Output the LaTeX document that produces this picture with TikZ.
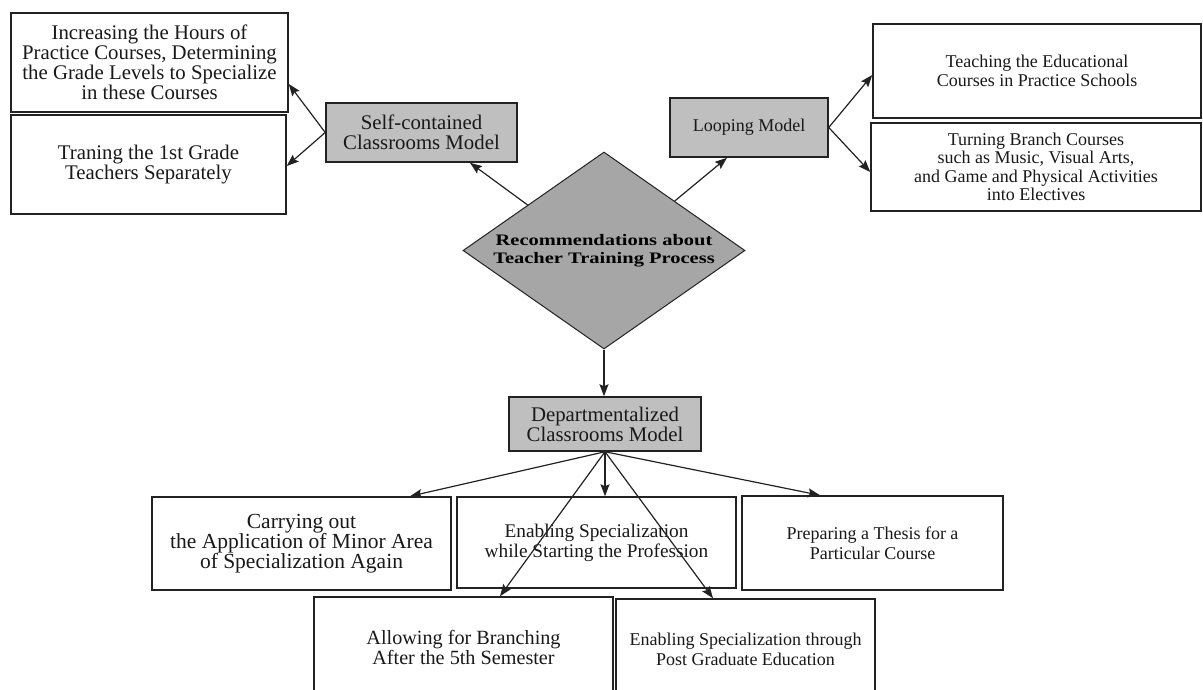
\documentclass[tikz,border=0pt]{standalone}
\usepackage{fontspec}
\setmainfont{Liberation Serif}
\newfontfamily\widebold{Liberation Serif}[FakeStretch=1.28]
\usetikzlibrary{shapes.geometric,arrows.meta,calc}
\definecolor{boxgray}{HTML}{BFBFBF}
\definecolor{diagray}{HTML}{A6A6A6}
\definecolor{edge}{HTML}{222222}
\begin{document}
\begin{tikzpicture}[x=1pt,y=-1pt,
  box/.style={draw=edge, line width=1.5pt, rectangle, inner sep=0pt, align=center, text=black!90},
  gbox/.style={box, fill=boxgray},
  fa/.style={font=\fontsize{20.8}{20}\selectfont},
  fc/.style={font=\fontsize{18}{19}\selectfont},
  dia/.style={draw=edge, line width=1pt, fill=diagray, shape=diamond, inner sep=0pt},
  diatext/.style={font=\widebold\bfseries\fontsize{16}{18.3}\selectfont, align=center, inner sep=0pt},
  arr/.style={draw=edge, line width=1.2pt, -{Stealth[length=12pt,width=9pt,inset=2pt]}}]
\useasboundingbox (0,0) rectangle (1203,690);
\clip (0,0) rectangle (1203,690);
\fill[white] (0,0) rectangle (1203,690);

% left branch
\node[box, fa, minimum width=277pt, minimum height=99pt] (tl1) at (149.5,62.5)
  {Increasing the Hours of\\Practice Courses, Determining\\the Grade Levels to Specialize\\in these Courses};
\node[box, fa, minimum width=275pt, minimum height=99pt] (tl2) at (148.5,164.5)
  {Traning the 1st Grade\\Teachers Separately};
\node[gbox, fa, minimum width=191pt, minimum height=59pt] (sc) at (421.5,132.5)
  {Self-contained\\Classrooms Model};

% right branch
\node[gbox, fc, minimum width=158pt, minimum height=59pt] (loop) at (749,127.5)
  {Looping Model};
\node[box, fc, minimum width=328pt, minimum height=94pt] (tr1) at (1037,71)
  {Teaching the Educational\\Courses in Practice Schools};
\node[box, font=\fontsize{18}{18.5}\selectfont, minimum width=330pt, minimum height=88pt] (tr2) at (1036,167)
  {Turning Branch Courses\\such as Music, Visual Arts,\\and Game and Physical Activities\\into Electives};

% centre
\node[dia, minimum width=282pt, minimum height=197pt] (rec) at (604,250.5) {};
\node[diatext] (rectext) at (rec.center) {Recommendations about\\Teacher Training Process};

\node[gbox, fa, minimum width=192pt, minimum height=54pt] (dept) at (605,424)
  {Departmentalized\\Classrooms Model};

% bottom
\node[box, font=\fontsize{21.5}{20}\selectfont, minimum width=299pt, minimum height=93pt] (carry) at (301.5,543.5)
  {Carrying out\\the Application of Minor Area\\of Specialization Again};
\node[box, font=\fontsize{19.3}{20}\selectfont, minimum width=279pt, minimum height=91pt] (enab) at (596.5,542.5)
  {Enabling Specialization\\while Starting the Profession};
\node[box, font=\fontsize{18}{20}\selectfont, minimum width=261pt, minimum height=94pt] (prep) at (872.5,543)
  {Preparing a Thesis for a\\Particular Course};
\node[box, font=\fontsize{20.2}{20}\selectfont, minimum width=299pt, minimum height=100pt] (allow) at (463.5,647)
  {Allowing for Branching\\After the 5th Semester};
\node[box, font=\fontsize{18}{20}\selectfont, minimum width=259pt, minimum height=100pt] (pg) at (745.5,649)
  {Enabling Specialization through\\Post Graduate Education};

% connectors
\draw[arr] (sc.west) -- ([yshift=-21.5pt]tl1.east);
\draw[arr] (sc.west) -- ([yshift=-1.5pt]tl2.east);
\draw[arr] ($(rec.north)!0.54!(rec.west)$) -- ([xshift=48.5pt]sc.south);
\draw[arr] ($(rec.north)!0.5!(rec.east)$) -- ([xshift=-22pt]loop.south);
\draw[arr] (loop.east) -- ([yshift=-4pt]tr1.west);
\draw[arr] (loop.east) -- ([yshift=-5pt]tr2.west);
\draw[arr] (rec.south) -- (rec.south |- dept.north);
\draw[arr] (dept.south) -- ([xshift=108.5pt]carry.north);
\draw[arr] (dept.south) -- (dept.south |- enab.north);
\draw[arr] (dept.south) -- ([xshift=-52.5pt]prep.north);
\draw[arr] (dept.south) -- ([xshift=36.5pt]allow.north);
\draw[arr] (dept.south) -- ([xshift=-32.5pt]pg.north);
\end{tikzpicture}
\end{document}
